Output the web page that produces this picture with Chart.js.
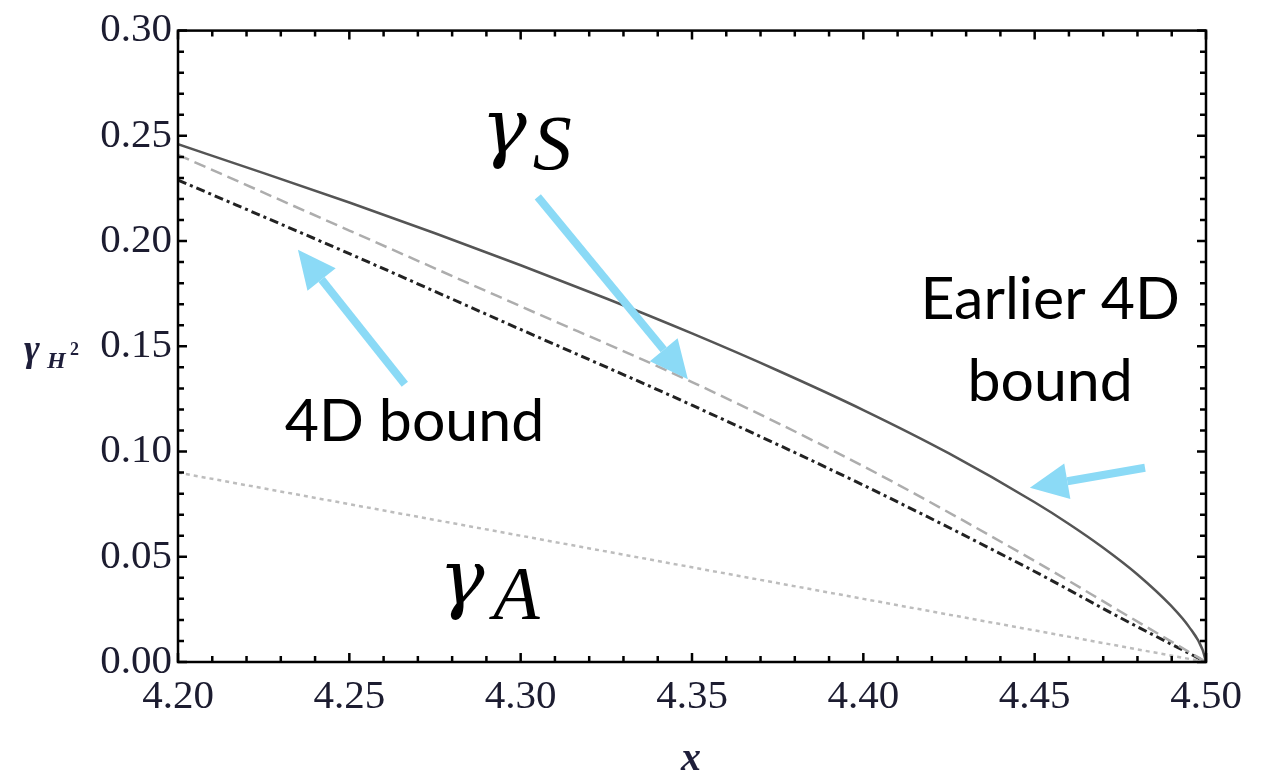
<!DOCTYPE html>
<html>
<head>
<meta charset="utf-8">
<script src="https://cdn.jsdelivr.net/npm/chart.js@4.4.1/dist/chart.umd.min.js"></script>
<style>
  html, body { margin: 0; padding: 0; background: #fff; }
  #wrap { width: 1273px; height: 773px; }
</style>
</head>
<body>
<div id="wrap"><canvas id="chart"></canvas></div>
<script>
// values
const xEarlier = [4.20, 4.225, 4.25, 4.275, 4.30, 4.325, 4.35, 4.375, 4.40, 4.425, 4.45, 4.46, 4.47, 4.48, 4.49, 4.495, 4.499, 4.50];
const yEarlier = [0.2460, 0.2323, 0.2183, 0.2037, 0.1885, 0.1727, 0.1561, 0.1385, 0.1197, 0.0991, 0.0759, 0.0656, 0.0543, 0.0416, 0.0264, 0.0168, 0.0058, 0];

const xGammaS = [4.20, 4.25, 4.30, 4.35, 4.40, 4.45, 4.475, 4.50];
const yGammaS = [0.241, 0.205, 0.169, 0.133, 0.093, 0.048, 0.024, 0];

const x4D = [4.20, 4.25, 4.30, 4.35, 4.40, 4.45, 4.475, 4.50];
const y4D = [0.229, 0.194, 0.158, 0.122, 0.084, 0.043, 0.021, 0];

const xGammaA = [4.20, 4.30, 4.40, 4.50];
const yGammaA = [0.090, 0.060, 0.030, 0];

const xTicks = [4.20, 4.25, 4.30, 4.35, 4.40, 4.45, 4.50];
const xTickLabels = ['4.20', '4.25', '4.30', '4.35', '4.40', '4.45', '4.50'];
const yTicks = [0, 0.05, 0.10, 0.15, 0.20, 0.25, 0.30];
const yTickLabels = ['0.00', '0.05', '0.10', '0.15', '0.20', '0.25', '0.30'];

function pts(xs, ys) {
  return xs.map((x, i) => ({ x: x, y: ys[i] }));
}

const arrowColor = '#8bdaf6';

function drawArrow(ctx, x1, y1, x2, y2) {
  const ang = Math.atan2(y2 - y1, x2 - x1);
  const headLen = 38, headW = 18;
  const bx = x2 - headLen * Math.cos(ang);
  const by = y2 - headLen * Math.sin(ang);
  ctx.save();
  ctx.strokeStyle = arrowColor;
  ctx.fillStyle = arrowColor;
  ctx.lineWidth = 8;
  ctx.beginPath();
  ctx.moveTo(x1, y1);
  ctx.lineTo(bx, by);
  ctx.stroke();
  ctx.beginPath();
  ctx.moveTo(x2, y2);
  ctx.lineTo(bx + headW * Math.sin(ang), by - headW * Math.cos(ang));
  ctx.lineTo(bx - headW * Math.sin(ang), by + headW * Math.cos(ang));
  ctx.closePath();
  ctx.fill();
  ctx.restore();
}

function text(ctx, str, font, x, y) {
  ctx.font = font;
  ctx.fillText(str, x, y);
}

const decorations = {
  id: 'decorations',
  afterDraw(chart) {
    const ctx = chart.ctx;
    const xs = chart.scales.x, ys = chart.scales.y;
    const a = chart.chartArea;
    const X = v => xs.getPixelForValue(v), Y = v => ys.getPixelForValue(v);
    ctx.save();

    // frame
    ctx.strokeStyle = '#000';
    ctx.lineWidth = 2.5;
    ctx.strokeRect(a.left, a.top, a.right - a.left, a.bottom - a.top);

    // inward ticks on all four sides
    for (let i = 0; i <= 30; i++) {
      const px = X(4.2 + i * 0.01);
      const len = i % 5 === 0 ? 9 : 6;
      ctx.beginPath();
      ctx.moveTo(px, a.bottom); ctx.lineTo(px, a.bottom - len);
      ctx.moveTo(px, a.top); ctx.lineTo(px, a.top + len);
      ctx.stroke();
      const py = Y(i * 0.01);
      ctx.beginPath();
      ctx.moveTo(a.left, py); ctx.lineTo(a.left + len, py);
      ctx.moveTo(a.right, py); ctx.lineTo(a.right - len, py);
      ctx.stroke();
    }

    // axis titles
    ctx.fillStyle = '#1e1e3a';
    ctx.textAlign = 'left';
    ctx.textBaseline = 'alphabetic';
    text(ctx, '\u03b3', 'italic bold 38px "Liberation Serif"', 24, 361);
    text(ctx, 'H', 'italic bold 24px "Liberation Serif"', 47, 368);
    text(ctx, '2', 'bold 18px "Liberation Serif"', 70, 355);
    text(ctx, 'x', 'italic bold 40px "Liberation Serif"', (a.left + a.right) / 2 - 11, 770);

    // annotations
    ctx.fillStyle = '#000';
    text(ctx, '\u03b3', 'italic 76px "DejaVu Serif"', X(4.2885), Y(0.2418));
    text(ctx, 'S', 'italic 78px "Liberation Serif"', X(4.3035), Y(0.2342));
    text(ctx, '\u03b3', 'italic 76px "DejaVu Serif"', X(4.2762), Y(0.0274));
    text(ctx, 'A', 'italic 76px "Liberation Serif"', X(4.2920), Y(0.0203));

    ctx.textAlign = 'center';
    ctx.textBaseline = 'middle';
    ctx.font = '59px Lato';
    ctx.fillText('4D bound', X(4.269), Y(0.114));
    ctx.fillText('Earlier 4D', X(4.4545), Y(0.172));
    ctx.fillText('bound', X(4.4545), Y(0.133));

    drawArrow(ctx, X(4.305), Y(0.221), X(4.3488), Y(0.1344));
    drawArrow(ctx, X(4.2662), Y(0.132), X(4.235), Y(0.1959));
    drawArrow(ctx, X(4.4822), Y(0.0923), X(4.4486), Y(0.0828));

    ctx.restore();
  }
};

const ctx = document.getElementById('chart').getContext('2d');
new Chart(ctx, {
  type: 'line',
  data: {
    datasets: [
      {
        label: 'Earlier 4D bound',
        data: pts(xEarlier, yEarlier),
        borderColor: '#555555',
        borderWidth: 2.5,
        cubicInterpolationMode: 'monotone'
      },
      {
        label: 'gamma S',
        data: pts(xGammaS, yGammaS),
        borderColor: '#adadad',
        borderWidth: 2.5,
        borderDash: [12, 6],
        cubicInterpolationMode: 'monotone'
      },
      {
        label: '4D bound',
        data: pts(x4D, y4D),
        borderColor: '#222222',
        borderWidth: 3,
        borderDash: [9, 4, 3, 4],
        cubicInterpolationMode: 'monotone'
      },
      {
        label: 'gamma A',
        data: pts(xGammaA, yGammaA),
        borderColor: '#bdbdbd',
        borderWidth: 2.5,
        borderDash: [4, 4]
      }
    ]
  },
  options: {
    responsive: true,
    maintainAspectRatio: false,
    animation: false,
    events: [],
    elements: { point: { radius: 0 } },
    layout: { padding: { left: 0, right: 67, top: 28, bottom: 0 } },
    plugins: { legend: { display: false }, tooltip: { enabled: false } },
    scales: {
      x: {
        type: 'linear',
        min: 4.2,
        max: 4.5,
        afterBuildTicks: s => { s.ticks = xTicks.map(v => ({ value: v })); },
        afterFit: s => { s.height = 111; },
        grid: { display: false, drawTicks: false },
        border: { display: false },
        ticks: {
          color: '#1c1c30',
          font: { family: 'Liberation Serif', size: 41 },
          padding: 11,
          maxRotation: 0,
          callback: (v, i) => xTickLabels[i]
        }
      },
      y: {
        type: 'linear',
        min: 0,
        max: 0.3,
        afterBuildTicks: s => { s.ticks = yTicks.map(v => ({ value: v })); },
        afterFit: s => { s.width = 178; },
        grid: { display: false, drawTicks: false },
        border: { display: false },
        ticks: {
          color: '#1c1c30',
          font: { family: 'Liberation Serif', size: 41 },
          padding: 6,
          callback: (v, i) => yTickLabels[i]
        }
      }
    }
  },
  plugins: [decorations]
});
</script>
</body>
</html>
